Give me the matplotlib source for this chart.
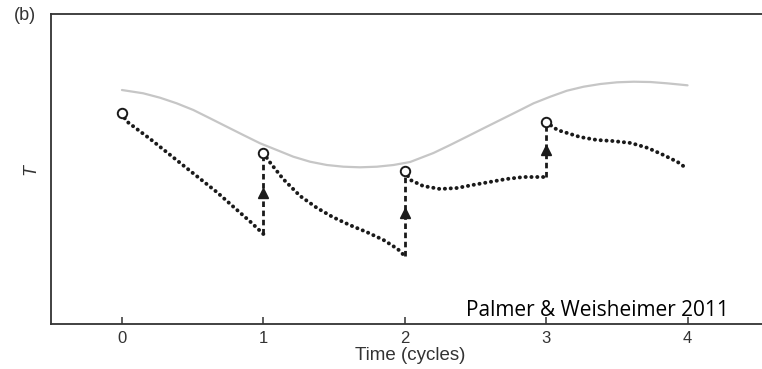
import matplotlib
matplotlib.use('Agg')
import matplotlib.pyplot as plt

# gray reference curve (T)
ref_x = [0, 0.151, 0.269, 0.387, 0.505, 0.623, 0.741, 0.858, 0.977, 1.095, 1.212, 1.330,
         1.449, 1.566, 1.684, 1.803, 1.920, 2.038, 2.203, 2.321, 2.439, 2.557, 2.675,
         2.793, 2.911, 3.029, 3.147, 3.265, 3.383, 3.501, 3.619, 3.737, 3.855, 4.0]
ref_t = [234, 230.7, 226.3, 220.7, 214, 205.7, 197.3, 189, 180.7, 174, 167.3, 162.3,
         159, 157.3, 156.7, 157.3, 159, 162, 171, 179, 187.3, 195.7, 204,
         212.3, 220.7, 227.3, 233.3, 237.3, 240, 241.7, 242.3, 242, 240.7, 238.7]

# dotted forecast trajectories, one per cycle
seg1_x = [0, 0.03, 0.2, 0.43, 0.67, 0.91, 1.0]
seg1_t = [211, 203, 185, 159, 132, 102, 90]
seg2_x = [1.0, 1.05, 1.14, 1.26, 1.38, 1.49, 1.61, 1.73, 1.85, 1.95, 2.0]
seg2_t = [171, 161, 145, 128, 116, 107, 99, 92, 84, 75, 68]
seg3_x = [2.0, 2.04, 2.13, 2.25, 2.37, 2.48, 2.6, 2.72, 2.84, 3.0]
seg3_t = [153, 144, 138, 135, 136, 139, 142, 145, 147, 147]
seg4_x = [3.0, 3.08, 3.24, 3.36, 3.47, 3.6, 3.72, 3.83, 3.93, 4.0]
seg4_t = [202, 194, 187, 184, 183, 181, 176, 169, 162, 155]

# re-initialisation points and the jumps leading to them
start_x = [0, 1, 2, 3]
start_t = [211, 171, 153, 202]
jump_x = [1, 2, 3]
jump_from = [90, 68, 147]
jump_to = [171, 153, 202]

xticks = [0, 1, 2, 3, 4]

plt.rcParams['font.family'] = ['Liberation Sans', 'DejaVu Sans']
dark = '#333333'

fig = plt.figure(figsize=(7.62, 3.69), dpi=100)
ax = fig.add_axes([0.0669, 0.122, 0.943, 0.840])

ax.plot(ref_x, ref_t, color='#c6c6c6', lw=1.6, zorder=1, solid_capstyle='round')

for sx, st in [(seg1_x, seg1_t), (seg2_x, seg2_t), (seg3_x, seg3_t), (seg4_x, seg4_t)]:
    ax.plot(sx, st, color='#1a1a1a', lw=2.8, linestyle=(0, (0.05, 1.45)),
            dash_capstyle='round', zorder=2)

for jx, a, b in zip(jump_x, jump_from, jump_to):
    ax.plot([jx, jx], [a, b], color='#1a1a1a', lw=2.0, linestyle=(0, (2.0, 1.3)), zorder=2)
    ax.plot([jx], [(a + b) / 2], marker='^', color='#1a1a1a', markersize=6.5, zorder=3)

ax.plot(start_x, start_t, 'o', markersize=6.8, markerfacecolor='white',
        markeredgecolor='#1a1a1a', markeredgewidth=1.4, linestyle='none', zorder=4)

ax.set_xlim(-0.502, 4.58)
ax.set_ylim(0, 310)
ax.set_xticks(xticks)
ax.set_xticklabels([str(v) for v in xticks])
ax.set_yticks([])
ax.tick_params(axis='x', direction='in', length=5, width=1.1, color=dark,
               labelsize=12, labelcolor=dark, pad=5)
for side in ['left', 'bottom', 'top']:
    ax.spines[side].set_color(dark)
    ax.spines[side].set_linewidth(1.3)
ax.spines['right'].set_visible(False)

ax.set_xlabel('Time (cycles)', fontsize=13.5, color=dark, labelpad=1)
ax.set_ylabel('T', fontsize=13, color=dark, style='italic', labelpad=8)

fig.text(0.033, 0.958, '(b)', fontsize=13, color=dark, ha='center', va='center')
ax.text(3.36, 8, 'Palmer & Weisheimer 2011', fontsize=15, family='Open Sans',
        color='black', ha='center', va='baseline')

plt.savefig('out.png', dpi=100)
plt.close()
